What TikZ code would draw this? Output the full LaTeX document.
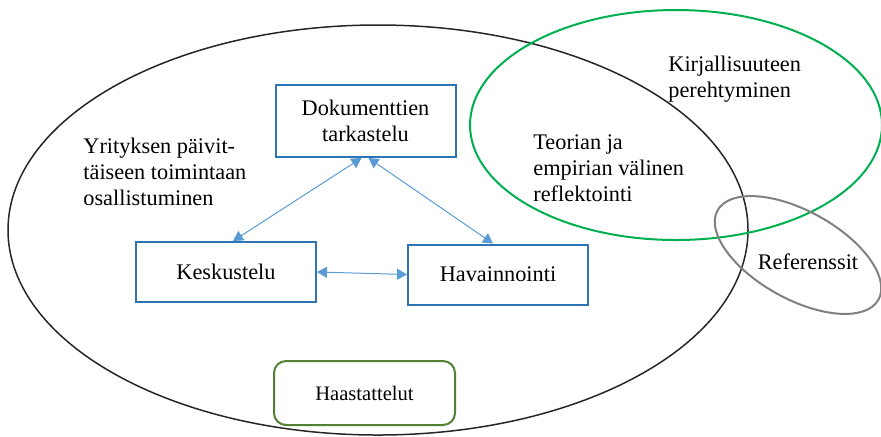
\documentclass[tikz,border=0pt]{standalone}
\usepackage{fontspec}
\setmainfont{Liberation Serif}
\usetikzlibrary{arrows.meta}

\definecolor{boxblue}{RGB}{46,117,182}
\definecolor{linkblue}{RGB}{91,155,213}
\definecolor{litgreen}{RGB}{0,176,80}
\definecolor{intgreen}{RGB}{84,130,53}
\definecolor{refgray}{RGB}{128,128,128}

\tikzset{
  method/.style={draw=boxblue,line width=1pt,fill=white,minimum width=90pt,minimum height=30pt,
    font=\fontsize{11.15pt}{13pt}\selectfont,align=center},
  area/.style={inner sep=0pt,align=left,font=\fontsize{11.15pt}{13pt}\selectfont},
  link/.style={{Triangle[length=5pt,width=5.5pt]}-{Triangle[length=5pt,width=5.5pt]},draw=linkblue,line width=0.5pt}
}

\begin{document}
\begin{tikzpicture}[x=0.5pt,y=-0.5pt]
    \useasboundingbox (0,0) rectangle (881,436);
    % the three areas
    \draw[black!85,line width=0.75pt] (378,230) ellipse [x radius=370, y radius=205];
    \draw[litgreen,line width=1pt] (676,125) ellipse [x radius=206, y radius=115];
    \draw[refgray,line width=1pt,shift={(798,255)},rotate=-29] (0,0) ellipse [x radius=92, y radius=44];

    % texts of the areas
    \node[area,anchor=west] (yri) at (83,172) {Yrityksen päivit-\\täiseen toimintaan\\osallistuminen};
    \node[area,anchor=west] (teo) at (533,168) {Teorian ja\\empirian välinen\\reflektointi};
    \node[area,anchor=west] (kir) at (668,79) {Kirjallisuuteen\\perehtyminen};
    \node[area] (ref) at (808,262) {Referenssit};

    % methods
    \node[method,minimum height=36pt] (dok) at (365.5,121) {Dokumenttien\\tarkastelu};
    \node[method] (kes) at (226,272) {Keskustelu};
    \node[method] (hav) at (498,274.5) {Havainnointi};
    \node[method,draw=intgreen,rounded corners=6pt,minimum width=90.5pt,minimum height=32pt,
      font=\fontsize{10.3pt}{12pt}\selectfont] (haa) at (364.5,393) {Haastattelut};

    % links between methods
    \draw[link] ([xshift=-2pt]dok.south) -- ([xshift=3.5pt]kes.north);
    \draw[link] ([xshift=1.5pt]dok.south) -- ([xshift=-2.5pt]hav.north);
    \draw[link] (kes.east) -- (hav.west);

\end{tikzpicture}
\end{document}
